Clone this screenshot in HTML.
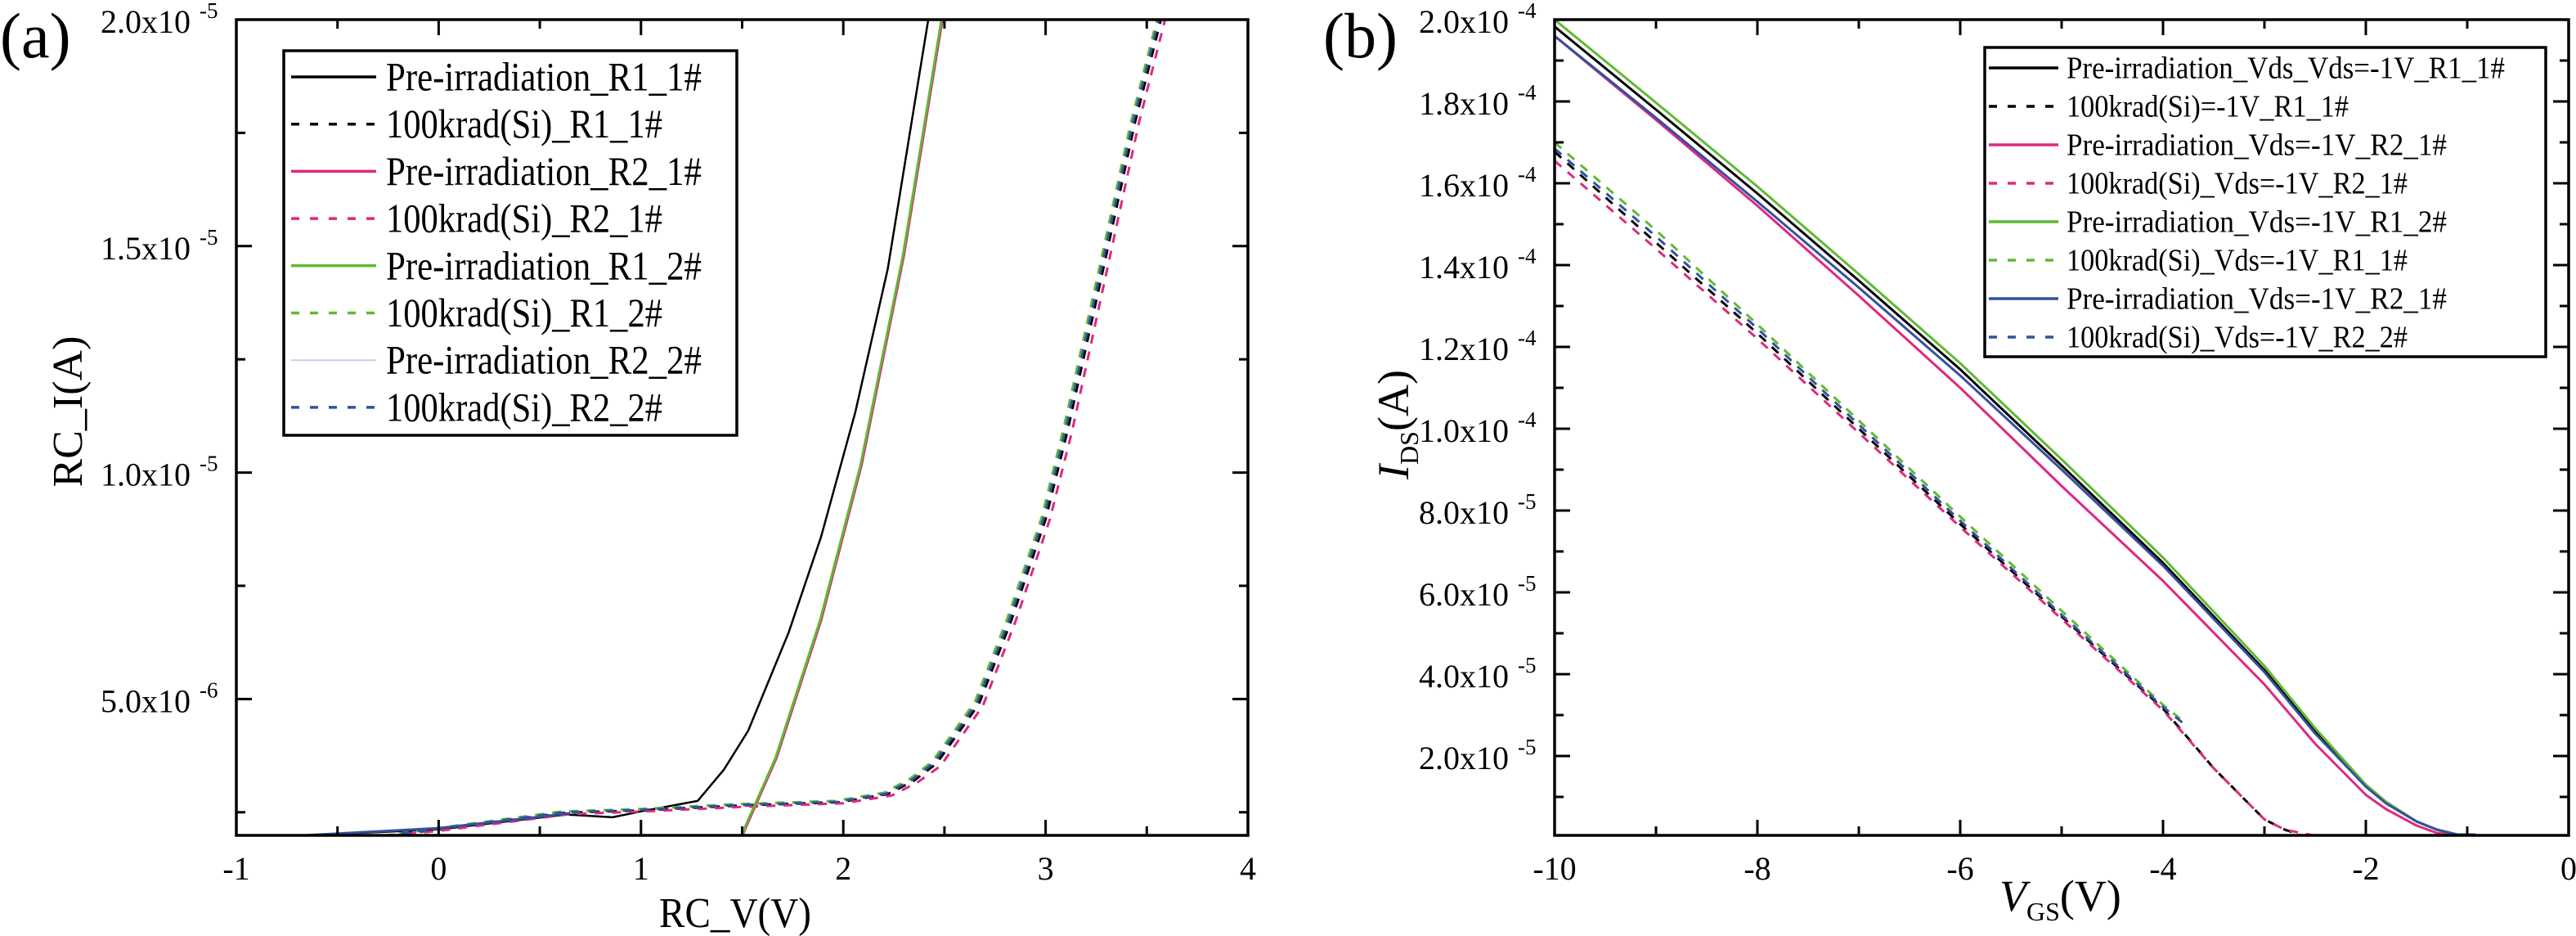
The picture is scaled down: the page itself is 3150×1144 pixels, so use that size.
<!DOCTYPE html>
<html><head><meta charset="utf-8"><style>
html,body{margin:0;padding:0;background:#fff;}
svg{display:block;font-family:"Liberation Serif",serif;}
</style></head><body>
<svg id="chart" width="3150" height="1144" viewBox="0 0 3150 1144" xmlns="http://www.w3.org/2000/svg">
<rect width="3150" height="1144" fill="#fff"/>
</svg>
<script>
// ---------- Panel (a) data (y in units of 1e-6 A) ----------
const aPreR11X = [-0.71,0,0.63,0.86,1.0,1.28,1.41,1.53,1.73,1.89,2.06,2.22,2.42];
const aPreR11Y = [1.98,2.12,2.45,2.39,2.52,2.75,3.44,4.3,6.47,8.58,11.34,14.5,20.0];
const aPreR21X = [1.5,1.67,1.89,2.09,2.30,2.49];
const aPreR21Y = [1.98,3.7,6.73,10.16,14.8,20.0];
const aPreR12X = [1.495,1.665,1.885,2.085,2.295,2.485];
const aPreR12Y = [1.98,3.7,6.73,10.16,14.8,20.0];
const aPreR22X = [-0.71,0,0.4,0.65];
const aPreR22Y = [1.98,2.15,2.35,2.48];
const aRadR11X = [-0.26,0,0.63,1.0,1.49,1.98,2.22,2.35,2.46,2.67,2.83,3.0,3.11,3.28,3.44,3.57];
const aRadR11Y = [1.98,2.12,2.49,2.54,2.65,2.72,2.9,3.2,3.57,4.89,6.73,8.97,10.95,14.4,17.7,20.0];
const aRadR21X = [-0.24,0.02,0.65,1.02,1.51,2.0,2.24,2.37,2.48,2.69,2.85,3.02,3.13,3.3,3.46,3.59];
const aRadR21Y = [1.98,2.1,2.46,2.52,2.62,2.7,2.87,3.17,3.52,4.85,6.7,8.95,10.9,14.4,17.7,20.0];
const aRadR12X = [-0.28,-0.02,0.61,0.98,1.47,1.96,2.2,2.33,2.44,2.65,2.81,2.98,3.09,3.26,3.42,3.55];
const aRadR12Y = [1.98,2.14,2.52,2.57,2.68,2.75,2.93,3.24,3.62,4.93,6.77,9.0,11.0,14.4,17.7,20.0];
const aRadR22X = [-0.27,-0.01,0.62,0.99,1.48,1.97,2.21,2.34,2.45,2.66,2.82,2.99,3.1,3.27,3.43,3.56];
const aRadR22Y = [1.98,2.13,2.5,2.55,2.66,2.73,2.91,3.22,3.6,4.91,6.75,8.98,10.97,14.4,17.7,20.0];
const aXTicks = [-1,0,1,2,3,4];
const aYTicks = [5,10,15,20];
const aYTickMant = ["5.0x10","1.0x10","1.5x10","2.0x10"];
const aYTickExp = ["-6","-5","-5","-5"];

// ---------- Panel (b) data (y in units of 1e-5 A) ----------
const bSolidX = [-10,-9,-8,-7,-6,-5,-4,-3,-2.5,-2,-1.8,-1.5,-1.3,-1.1,-0.92];
const bPreR11Y = [19.83,17.8,15.75,13.62,11.45,9.1,6.72,4.1,2.6,1.26,0.85,0.4,0.2,0.08,0.08];
const bPreR12Y = [20.0,17.97,15.92,13.78,11.6,9.25,6.85,4.2,2.68,1.3,0.88,0.4,0.2,0.08,0.06];
const bPreR21bY = [19.6,17.6,15.55,13.45,11.3,9.0,6.65,4.05,2.55,1.25,0.84,0.4,0.2,0.08,0.08];
const bPinkX = [-10,-9,-8,-7,-6,-5,-4,-3,-2.5,-2,-1.8,-1.5,-1.3,-1.1];
const bPreR21Y = [19.6,17.55,15.45,13.25,11.0,8.6,6.28,3.75,2.3,1.05,0.7,0.3,0.12,0.06];
const bRadBlackX = [-10,-9,-8,-7,-6,-5,-4,-3.5,-3,-2.8,-2.65];
const bRadR11Y = [16.77,14.55,12.33,10.0,7.67,5.41,3.16,1.7,0.45,0.2,0.08];
const bRadPinkX = [-10,-9,-8,-7,-6,-5,-4,-3.5,-3,-2.8,-2.5];
const bRadR21Y = [16.55,14.4,12.2,9.9,7.6,5.35,3.12,1.7,0.45,0.2,0.05];
const bRadShortX = [-10,-9,-8,-7,-6,-5,-4,-3.8];
const bRadR12Y = [17.0,14.85,12.55,10.2,7.85,5.55,3.25,2.85];
const bRadR22Y = [16.85,14.7,12.45,10.1,7.75,5.45,3.2,2.8];
const bXTicks = [-10,-8,-6,-4,-2,0];
const bYTicks = [2,4,6,8,10,12,14,16,18,20];
const bYTickMant = ["2.0x10","4.0x10","6.0x10","8.0x10","1.0x10","1.2x10","1.4x10","1.6x10","1.8x10","2.0x10"];
const bYTickExp = ["-5","-5","-5","-5","-4","-4","-4","-4","-4","-4"];

const NS = "http://www.w3.org/2000/svg";
const svg = document.getElementById("chart");
function mk(tag, attrs, parent){
  const e = document.createElementNS(NS, tag);
  for (const k in attrs) e.setAttribute(k, attrs[k]);
  (parent||svg).appendChild(e);
  return e;
}
const BLACK="#000", PINK="#e0287f", GREEN="#5fba33", BLUE="#34509f";

function panel(P){
  const g = mk("g", {});
  
  
  const sx = v => P.L + (v - P.x0) / (P.x1 - P.x0) * (P.R - P.L);
  const sy = v => P.B - (v - P.y0) / (P.y1 - P.y0) * (P.B - P.T);
  const clipId = P.name + "-clip";
  const cp = mk("clipPath", {id: clipId}, g);
  mk("rect", {x: P.L, y: P.T, width: P.R - P.L, height: P.B - P.T}, cp);
  const series = mk("g", {"clip-path": "url(#" + clipId + ")"}, g);
  P.series.forEach(s => {
    const d = s.x.map((xv, i) => (i ? "L" : "M") + sx(xv).toFixed(1) + "," + sy(s.y[i]).toFixed(1)).join(" ");
    const p = mk("path", {d: d, fill: "none", stroke: s.c, "stroke-width": s.w || 3, "stroke-linejoin": "round", "stroke-dasharray": s.dash ? "11,10" : "none"}, series);
    
    
  });
  const fr = mk("rect", {x: P.L, y: P.T, width: P.R - P.L, height: P.B - P.T, fill: "none", stroke: "#000", "stroke-width": 3.5}, g);
  
  
  for (let i = 0; i < P.xt.length; i++) {
    const X = sx(P.xt[i]);
    mk("line", {x1: X, y1: P.B, x2: X, y2: P.B - 19, stroke: "#000", "stroke-width": 3}, g);
    mk("line", {x1: X, y1: P.T, x2: X, y2: P.T + 19, stroke: "#000", "stroke-width": 3}, g);
    const t = mk("text", {x: X, y: 1075, "text-anchor": "middle", "font-size": 40}, g);
    t.textContent = String(P.xt[i]);
    
    
    if (i < P.xt.length - 1) {
      const M = sx((P.xt[i] + P.xt[i+1]) / 2);
      mk("line", {x1: M, y1: P.B, x2: M, y2: P.B - 11, stroke: "#000", "stroke-width": 3}, g);
      mk("line", {x1: M, y1: P.T, x2: M, y2: P.T + 11, stroke: "#000", "stroke-width": 3}, g);
    }
  }
  const ystep = P.yt[1] - P.yt[0];
  for (let i = 0; i < P.yt.length; i++) {
    const Y = sy(P.yt[i]);
    mk("line", {x1: P.L, y1: Y, x2: P.L + 19, y2: Y, stroke: "#000", "stroke-width": 3}, g);
    mk("line", {x1: P.R, y1: Y, x2: P.R - 19, y2: Y, stroke: "#000", "stroke-width": 3}, g);
    const m = P.yt[i] - ystep / 2;
    if (m > P.y0) {
      const YM = sy(m);
      mk("line", {x1: P.L, y1: YM, x2: P.L + 11, y2: YM, stroke: "#000", "stroke-width": 3}, g);
      mk("line", {x1: P.R, y1: YM, x2: P.R - 11, y2: YM, stroke: "#000", "stroke-width": 3}, g);
    }
    const t = mk("text", {x: P.L - 56, y: Y + 16, "text-anchor": "end", "font-size": 40}, g);
    t.textContent = P.ym[i];
    
    
    const e = mk("text", {x: P.L - 45, y: Y - 2, "font-size": 27}, g);
    e.textContent = P.ye[i];
    
    
  }
  const lg = mk("g", {}, g);
  
  
  const Lb = P.leg;
  mk("rect", {x: Lb.x, y: Lb.y, width: Lb.w, height: Lb.h, fill: "#fff", stroke: "#000", "stroke-width": 3.5}, lg);
  P.series.filter(s => s.label).forEach((s, i) => {
    const ry = Lb.r0 + i * Lb.step;
    const en = mk("g", {}, lg);
    
    
    mk("line", {x1: Lb.lx1, y1: ry, x2: Lb.lx2, y2: ry, stroke: s.legc || s.c, "stroke-width": s.legw || 3.5, "stroke-dasharray": s.dash ? "10,13" : "none"}, en);
    const t = mk("text", {x: Lb.tx, y: ry + Lb.fs * 0.33, "font-size": Lb.fs}, en);
    t.textContent = s.label;
    if (s.tl) { t.setAttribute("textLength", s.tl); t.setAttribute("lengthAdjust", "spacingAndGlyphs"); }
  });
}

panel({
  name: "panel-a", L: 289, R: 1526, T: 24, B: 1021, x0: -1, x1: 4, y0: 1.99, y1: 20,
  xt: aXTicks, yt: aYTicks, ym: aYTickMant, ye: aYTickExp,
  leg: {x: 347, y: 62, w: 554, h: 470, r0: 94, step: 57.7, lx1: 356, lx2: 460, tx: 472, fs: 50},
  series: [
    {id: "pre-r1-1-line", x: aPreR11X, y: aPreR11Y, c: BLACK, w: 2.5, label: "Pre-irradiation_R1_1#", tl: 386},
    {id: "rad-r1-1-line", x: aRadR11X, y: aRadR11Y, c: BLACK, dash: true, label: "100krad(Si)_R1_1#", tl: 338},
    {id: "pre-r2-1-line", x: aPreR21X, y: aPreR21Y, c: PINK, label: "Pre-irradiation_R2_1#", tl: 386},
    {id: "rad-r2-1-line", x: aRadR21X, y: aRadR21Y, c: PINK, dash: true, label: "100krad(Si)_R2_1#", tl: 338},
    {id: "pre-r1-2-line", x: aPreR12X, y: aPreR12Y, c: GREEN, label: "Pre-irradiation_R1_2#", tl: 386},
    {id: "rad-r1-2-line", x: aRadR12X, y: aRadR12Y, c: GREEN, dash: true, label: "100krad(Si)_R1_2#", tl: 338},
    {id: "pre-r2-2-line", x: aPreR22X, y: aPreR22Y, c: BLUE, label: "Pre-irradiation_R2_2#", tl: 386, legc: "#c8d0e6", legw: 2},
    {id: "rad-r2-2-line", x: aRadR22X, y: aRadR22Y, c: BLUE, dash: true, label: "100krad(Si)_R2_2#", tl: 338}
  ]
});
panel({
  name: "panel-b", L: 1901, R: 3141, T: 24, B: 1021, x0: -10, x1: 0, y0: 0.06, y1: 20,
  xt: bXTicks, yt: bYTicks, ym: bYTickMant, ye: bYTickExp,
  leg: {x: 2427, y: 58, w: 686, h: 378, r0: 83, step: 47, lx1: 2432, lx2: 2517, tx: 2527, fs: 38},
  series: [
    {id: "b-pre-r1-1-line", x: bSolidX, y: bPreR11Y, c: BLACK, label: "Pre-irradiation_Vds_Vds=-1V_R1_1#", tl: 536},
    {id: "b-rad-r1-1-line", x: bRadBlackX, y: bRadR11Y, c: BLACK, dash: true, label: "100krad(Si)=-1V_R1_1#", tl: 345},
    {id: "b-pre-r2-1-line", x: bPinkX, y: bPreR21Y, c: PINK, label: "Pre-irradiation_Vds=-1V_R2_1#", tl: 465},
    {id: "b-rad-r2-1-line", x: bRadPinkX, y: bRadR21Y, c: PINK, dash: true, label: "100krad(Si)_Vds=-1V_R2_1#", tl: 417},
    {id: "b-pre-r1-2-line", x: bSolidX, y: bPreR12Y, c: GREEN, label: "Pre-irradiation_Vds=-1V_R1_2#", tl: 465},
    {id: "b-rad-r1-2-line", x: bRadShortX, y: bRadR12Y, c: GREEN, dash: true, label: "100krad(Si)_Vds=-1V_R1_1#", tl: 417},
    {id: "b-pre-r2-1b-line", x: bSolidX, y: bPreR21bY, c: BLUE, label: "Pre-irradiation_Vds=-1V_R2_1#", tl: 465},
    {id: "b-rad-r2-2-line", x: bRadShortX, y: bRadR22Y, c: BLUE, dash: true, label: "100krad(Si)_Vds=-1V_R2_2#", tl: 417}
  ]
});
function txt(name, attrs, content){
  const t = mk("text", attrs);
  
  
  t.innerHTML = content;
  return t;
}
txt("panel-a-label", {x: 0, y: 70, "font-size": 78}, "(a)");
txt("panel-b-label", {x: 1618, y: 70, "font-size": 78}, "(b)");
txt("x-axis-title-a", {x: 806, y: 1133, "font-size": 52, textLength: 186, lengthAdjust: "spacingAndGlyphs"}, "RC_V(V)");
txt("y-axis-title-a", {x: 0, y: 0, "font-size": 52, "text-anchor": "middle", transform: "translate(100,503) rotate(-90)"}, "RC_I(A)");
txt("x-axis-title-b", {x: 2445, y: 1113, "font-size": 54}, '<tspan font-style="italic">V</tspan><tspan font-size="32" dy="12">GS</tspan><tspan dy="-12">(V)</tspan>');
txt("y-axis-title-b", {x: 0, y: 0, "font-size": 54, "text-anchor": "middle", transform: "translate(1722,519) rotate(-90)"}, '<tspan font-style="italic">I</tspan><tspan font-size="32" dy="12">DS</tspan><tspan dy="-12">(A)</tspan>');
</script>
</body></html>
